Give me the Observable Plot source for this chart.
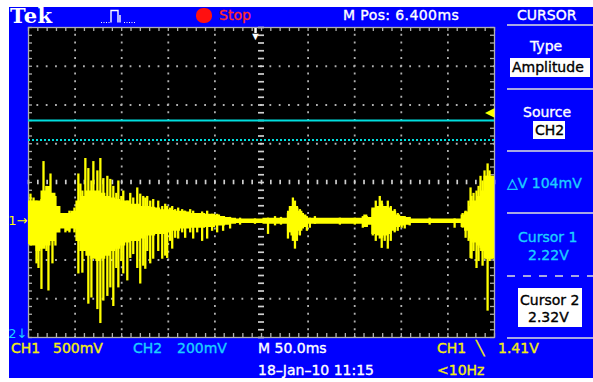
<!DOCTYPE html>
<html><head><meta charset="utf-8">
<script src="https://cdn.jsdelivr.net/npm/d3@7"></script>
<script src="https://cdn.jsdelivr.net/npm/@observablehq/plot@0.6"></script>
<style>
html,body{margin:0;padding:0;background:#fff;}
#wrap{position:relative;width:593px;height:382px;overflow:hidden;font-family:"DejaVu Sans",sans-serif;}
#blue{position:absolute;left:9px;top:7px;width:584px;height:371px;background:#0000ff;}
#chart{position:absolute;left:0;top:0;}
.t{position:absolute;white-space:nowrap;line-height:1;-webkit-text-stroke:0.35px currentColor;}
.box{position:absolute;background:#fff;}
.sep{position:absolute;height:2px;background:#a8a8e4;}
</style></head>
<body>
<div id="wrap"><div id="blue"></div><div id="chart"></div></div>
<script>
// ---- Screen settings (oscilloscope) ----
const ch1VoltsPerDiv = 0.5, ch1GroundDiv = -1;   // CH1 500mV/div
const ch2VoltsPerDiv = 0.2, ch2GroundDiv = -10;  // CH2 200mV/div
const timePerDiv = 50;   // ms/div, 10 divisions
const mPos = 6.4;        // ms
const triggerLevel = 1.41; // V (CH1)
const cursor1 = 2.22, cursor2 = 2.32; // V (CH2)

// ---- CH1 trace: dense body envelope (time ms from screen left, volts) ----
const bodyT = [0,5.4,10.7,16.1,21.4,26.8,32.1,37.5,42.8,48.2,53.5,58.9,64.2,69.6,74.9,80.3,85.7,91.0,96.4,101.7,107.1,112.4,117.8,123.1,128.5,133.8,139.2,144.5,149.9,155.3,160.6,166.0,171.3,176.7,182.0,187.4,192.7,198.1,203.4,208.8,214.1,219.5,227.0,276.2,279.5,283.7,288.0,292.3,296.6,300.9,357.6,361.9,366.2,370.5,374.7,379.0,383.3,387.6,392.9,397.2,401.5,406.9,413.3,462.5,465.8,470.0,474.3,478.6,482.9,487.2,490.4,500];
const bodyHi = [0.26,0.26,0.26,0.39,0.45,0.36,0.19,0.10,0.10,0.13,0.26,0.32,0.39,0.39,0.39,0.36,0.32,0.30,0.28,0.26,0.26,0.22,0.22,0.19,0.19,0.18,0.17,0.15,0.15,0.14,0.13,0.13,0.12,0.10,0.10,0.10,0.09,0.09,0.08,0.06,0.05,0.04,0.03,0.04,0.13,0.19,0.17,0.13,0.08,0.04,0.04,0.08,0.05,0.17,0.19,0.22,0.19,0.17,0.13,0.08,0.06,0.05,0.03,0.03,0.08,0.12,0.19,0.26,0.32,0.39,0.58,0.58];
const bodyLo = [-0.30,-0.32,-0.39,-0.36,-0.32,-0.26,-0.15,-0.10,-0.13,-0.10,-0.26,-0.39,-0.45,-0.49,-0.52,-0.49,-0.45,-0.39,-0.36,-0.32,-0.28,-0.26,-0.26,-0.23,-0.19,-0.19,-0.17,-0.17,-0.15,-0.13,-0.13,-0.10,-0.10,-0.09,-0.09,-0.09,-0.08,-0.08,-0.06,-0.06,-0.05,-0.04,-0.03,-0.04,-0.13,-0.19,-0.18,-0.13,-0.08,-0.04,-0.04,-0.08,-0.05,-0.17,-0.19,-0.22,-0.19,-0.17,-0.13,-0.08,-0.06,-0.05,-0.03,-0.03,-0.08,-0.13,-0.23,-0.28,-0.32,-0.39,-0.49,-0.49];

// ---- CH1 trace: individual spikes (time ms, max V, min V) ----
const spikeT = [2.1,5.4,8.6,10.7,13.9,16.1,19.3,21.4,23.6,25.7,28.9,39.6,43.9,49.3,53.5,55.7,57.8,61.0,64.2,67.5,69.6,73.9,77.1,80.3,84.6,87.8,91.0,94.2,96.4,99.6,101.7,106.0,109.2,112.4,116.7,119.9,123.1,125.3,127.4,130.6,133.8,139.2,143.5,146.7,148.8,152.0,154.2,157.4,160.6,164.9,168.1,173.5,176.7,181.0,186.3,191.7,197.0,202.4,208.8,216.3,227.0,243.0,257.0,264.5,270.9,278.4,280.5,283.7,285.9,288.0,291.2,294.4,298.7,301.9,307.3,334.1,350.1,358.7,363.0,369.4,372.6,376.9,379.0,382.2,385.5,388.7,392.9,396.2,400.4,403.7,409.0,430.4,457.2,465.8,469.0,472.2,474.3,475.4,477.5,480.7,482.9,485.0,487.2,489.3,491.5,492.6,494.7,496.8];
const spikeHi = [0.35,0.30,0.26,0.19,0.28,0.77,0.45,0.41,0.61,0.32,0.32,0.10,0.13,0.17,0.61,0.48,0.39,0.81,0.68,0.52,0.77,0.65,0.81,0.55,0.58,0.54,0.45,0.36,0.52,0.32,0.39,0.26,0.36,0.30,0.43,0.35,0.32,0.30,0.32,0.26,0.28,0.26,0.19,0.22,0.19,0.17,0.19,0.15,0.17,0.15,0.13,0.15,0.13,0.10,0.12,0.13,0.09,0.09,0.06,0.05,0.04,0.03,0.04,0.06,0.05,0.10,0.19,0.30,0.26,0.19,0.15,0.10,0.06,0.04,0.06,0.04,0.04,0.06,0.06,0.15,0.26,0.32,0.26,0.19,0.26,0.19,0.15,0.10,0.06,0.06,0.05,0.04,0.03,0.10,0.13,0.26,0.43,0.32,0.36,0.39,0.45,0.58,0.52,0.65,0.58,0.74,0.65,0.58];
const spikeLo = [-0.32,-0.30,-0.55,-0.61,-0.88,-0.26,-0.39,-0.90,-0.26,-0.55,-0.32,-0.15,-0.15,-0.15,-0.68,-0.39,-0.67,-0.39,-1.07,-0.99,-0.39,-1.14,-1.32,-1.03,-0.97,-0.86,-1.10,-0.61,-0.86,-0.52,-0.68,-0.77,-0.48,-0.43,-0.61,-0.81,-0.58,-0.62,-0.39,-0.55,-0.49,-0.39,-0.49,-0.45,-0.48,-0.26,-0.36,-0.22,-0.23,-0.15,-0.22,-0.15,-0.23,-0.15,-0.26,-0.23,-0.13,-0.15,-0.13,-0.10,-0.05,-0.04,-0.17,-0.06,-0.05,-0.23,-0.15,-0.26,-0.36,-0.26,-0.19,-0.10,-0.13,-0.09,-0.04,-0.05,-0.05,-0.09,-0.08,-0.19,-0.26,-0.23,-0.35,-0.26,-0.36,-0.26,-0.15,-0.13,-0.09,-0.10,-0.06,-0.05,-0.09,-0.09,-0.22,-0.26,-0.48,-0.49,-0.39,-0.61,-0.52,-0.35,-0.58,-0.39,-0.49,-1.16,-0.52,-0.49];

// ---- Colours ----
const YEL = "#ffff00", CYAN_LINE = "#00dede", CYAN_TXT = "#1ccfff", GRID = "#b0b0b0";

const d1 = v => v / ch1VoltsPerDiv + ch1GroundDiv;
const d2 = v => v / ch2VoltsPerDiv + ch2GroundDiv;
const body = bodyT.map((t, i) => ({t, hi: d1(bodyHi[i]), lo: d1(bodyLo[i])}));
const spikes = spikeT.map((t, i) => ({t, hi: d1(spikeHi[i]), lo: d1(spikeLo[i])}));

const W = 10 * timePerDiv;
const majorX = d3.range(1, 10).filter(i => i !== 5).map(i => i * timePerDiv);
const majorY = d3.range(-3, 4).filter(i => i !== 0);
const subX = d3.range(0, 51).map(i => i * timePerDiv / 5);
const subY = d3.range(0, 41).map(i => -4 + i / 5);
const trigT = W / 2 - mPos;
const pxX = W / 466, pxY = 8 / 310; // one screen pixel in data units

const chart = Plot.plot({
  width: 593, height: 382,
  marginTop: 27, marginLeft: 28, marginRight: 99, marginBottom: 45,
  x: {domain: [0, W], axis: null},
  y: {domain: [-4, 4], axis: null},
  style: {background: "transparent", overflow: "visible"},
  marks: [
    Plot.frame({fill: "black"}),
    Plot.ruleX(majorX, {stroke: GRID, strokeWidth: 1.8, strokeDasharray: "1.8,5.95", strokeDashoffset: 0.9}),
    Plot.ruleY(majorY, {stroke: GRID, strokeWidth: 1.8, strokeDasharray: "1.8,7.52", strokeDashoffset: 0.9}),
    // centre cross with sub-division ticks
    Plot.ruleY(subY, {y: d => d, x1: W / 2 - 3 * pxX, x2: W / 2 + 3 * pxX, stroke: "#d0d0d0", strokeWidth: 1.7}),
    Plot.ruleX(subX, {x: d => d, y1: -2.3 * pxY, y2: 2.3 * pxY, stroke: "#d0d0d0", strokeWidth: 1.7}),
    // edge ticks
    Plot.ruleX(subX, {x: d => d, y1: 4, y2: 4 - 4 * pxY, stroke: GRID, strokeWidth: 1.3}),
    Plot.ruleX(subX, {x: d => d, y1: -4, y2: -4 + 4 * pxY, stroke: GRID, strokeWidth: 1.3}),
    Plot.ruleY(subY, {y: d => d, x1: 0, x2: 4 * pxX, stroke: GRID, strokeWidth: 1.3}),
    Plot.ruleY(subY, {y: d => d, x1: W, x2: W - 4 * pxX, stroke: GRID, strokeWidth: 1.3}),
    Plot.frame({stroke: GRID, strokeWidth: 1.3}),
    // cursors (CH2)
    Plot.ruleY([cursor2], {y: d2, stroke: CYAN_LINE, strokeWidth: 2}),
    Plot.ruleY([cursor1], {y: d2, stroke: CYAN_LINE, strokeWidth: 2, strokeDasharray: "2,2"}),
    // CH1 trace
    Plot.areaY(body, {x: "t", y1: "lo", y2: "hi", fill: YEL, curve: "step"}),
    Plot.ruleX(spikes, {x: "t", y1: "lo", y2: "hi", stroke: YEL, strokeWidth: 2.3}),
    // trigger level marker
    Plot.text([triggerLevel], {x: W, y: d1, text: () => "◀", fill: YEL, fontSize: 12, textAnchor: "end", dx: -1}),
    // trigger position marker
    Plot.ruleX([trigT], {x: d => d, y1: 4 - 1 * pxY, y2: 4 - 6 * pxY, stroke: "white", strokeWidth: 2.5}),
    Plot.text([trigT], {x: d => d, y: 4, text: () => "▼", fill: "white", fontSize: 11, dy: 9}),
    // ground markers
    Plot.text([0], {x: 0, y: () => ch1GroundDiv, text: () => "1→", fill: YEL, fontSize: 13, textAnchor: "end", dx: -1, fontFamily: "DejaVu Sans"}),
    Plot.text([0], {x: 0, y: -4, text: () => "2↓", fill: CYAN_TXT, fontSize: 13, textAnchor: "end", dx: -1, dy: -4, fontFamily: "DejaVu Sans"})
  ]
});
document.getElementById("chart").appendChild(chart);

// ---- Panel texts ----
const wrap = document.getElementById("wrap");
function put(text, x, base, color, size = 14, extra = {}) {
  const d = document.createElement("div");
  d.className = "t";
  d.textContent = text;
  d.style.left = x + "px";
  d.style.top = (base - 0.846 * size) + "px";
  d.style.color = color;
  d.style.fontSize = size + "px";
  Object.assign(d.style, extra);
  wrap.appendChild(d);
}
function box(x, y, w, h) { const d = document.createElement("div"); d.className = "box"; Object.assign(d.style, {left: x + "px", top: y + "px", width: w + "px", height: h + "px"}); wrap.appendChild(d); }
function sep(x, y, w, dashed) { const d = document.createElement("div"); d.className = "sep"; Object.assign(d.style, {left: x + "px", top: y + "px", width: w + "px"}); if (dashed) d.style.background = "repeating-linear-gradient(90deg,#a8a8e4 0 8px,transparent 8px 16px)"; wrap.appendChild(d); }

// header
put("Tek", 10, 23, "#fff", 21, {fontFamily: "DejaVu Serif", fontWeight: "bold", letterSpacing: "0.5px", webkitTextStroke: "0"});
const icon = document.createElementNS("http://www.w3.org/2000/svg", "svg");
icon.setAttribute("width", 40); icon.setAttribute("height", 20);
Object.assign(icon.style, {position: "absolute", left: "100px", top: "7px"});
icon.innerHTML = '<path d="M1 15.5H11M24 15.5H36" stroke="#fff" stroke-dasharray="1,1.5"/><path d="M11 15.5V3.5H18V15.5M20 15.5V8" stroke="#fff" stroke-width="1.4" fill="none"/>';
wrap.appendChild(icon);
const stop = document.createElement("div");
Object.assign(stop.style, {position: "absolute", left: "196px", top: "7.5px", width: "16px", height: "15px", borderRadius: "45%", background: "#ff1010"});
wrap.appendChild(stop);
put("Stop", 219, 20, "#ff2a2a", 14);
put("M Pos: 6.400ms", 343, 20, "#fff", 14, {letterSpacing: "0.4px"});
put("CURSOR", 517, 20, "#fff", 14);
sep(507, 24, 86);

// right menu
put("Type", 530, 51, "#fff", 14);
box(510, 58, 80, 19);
put("Amplitude", 512, 72, "#000", 14);
sep(507, 88, 86);
put("Source", 523, 117, "#fff", 14);
box(533, 121, 32, 18);
put("CH2", 535, 135, "#000", 14);
sep(507, 150, 86);
put("△V 104mV", 507, 188, CYAN_TXT, 14);
sep(507, 212, 86);
put("Cursor 1", 518, 242, CYAN_TXT, 14);
put("2.22V", 528, 260, CYAN_TXT, 14);
sep(507, 275, 86, true);
box(518, 288, 64, 39);
put("Cursor 2", 520, 305, "#000", 14);
put("2.32V", 528, 322, "#000", 14);
sep(507, 337, 86);

// bottom bar
const Y2 = "#f4ee10";
put("CH1", 11, 353, Y2, 14);
put("500mV", 53, 353, Y2, 14);
put("CH2", 133, 353, CYAN_TXT, 14);
put("200mV", 177, 353, CYAN_TXT, 14);
put("M 50.0ms", 258, 353, "#fff", 14);
put("CH1", 437, 353, Y2, 14);
put("╲", 476, 353, Y2, 14);
put("1.41V", 498, 353, Y2, 14);
put("18–Jan–10 11:15", 258, 375, "#fff", 14);
put("<10Hz", 437, 375, Y2, 14);
</script>
</body></html>
